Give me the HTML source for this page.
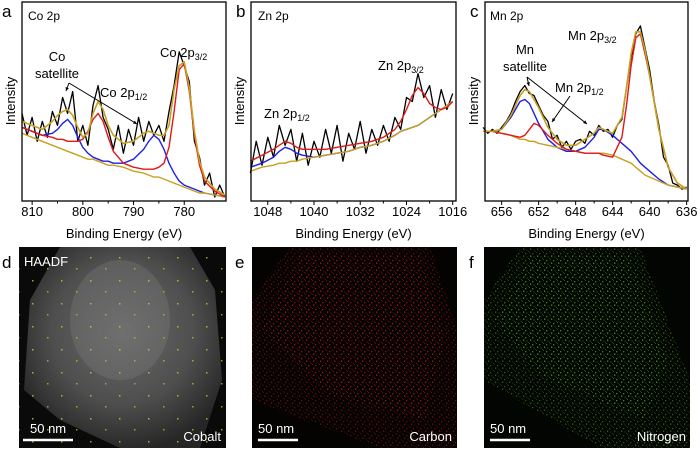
<!DOCTYPE html>
<html><head><meta charset="utf-8">
<style>
html,body{margin:0;padding:0;background:#fff;}
svg{display:block;font-family:"Liberation Sans",Arial,sans-serif;}
</style></head>
<body>
<svg id="fig" width="700" height="450" viewBox="0 0 700 450" xmlns="http://www.w3.org/2000/svg">
<defs>
  <pattern id="redDots" width="7" height="7" patternUnits="userSpaceOnUse">
    <rect x="0" y="1" width="1.3" height="1.3" fill="#c81a16"/>
    <rect x="4" y="0" width="1" height="1" fill="#901010"/>
    <rect x="5" y="3.5" width="1.3" height="1.3" fill="#e02420"/>
    <rect x="1.5" y="4.5" width="1" height="1" fill="#a01410"/>
    <rect x="3" y="6" width="1" height="1" fill="#801008"/>
  </pattern>
  <pattern id="greenDots" width="7" height="7" patternUnits="userSpaceOnUse">
    <rect x="0" y="1" width="1.3" height="1.3" fill="#4cb818"/>
    <rect x="4" y="0" width="1" height="1" fill="#307a0c"/>
    <rect x="5" y="3.5" width="1.3" height="1.3" fill="#5ad01e"/>
    <rect x="1.5" y="4.5" width="1" height="1" fill="#3c9a12"/>
    <rect x="3" y="6" width="1" height="1" fill="#2a6a08"/>
  </pattern>
  <pattern id="yellowDots" width="29" height="23" patternUnits="userSpaceOnUse">
    <rect x="3" y="4" width="1.5" height="1.5" fill="#c8d030"/>
    <rect x="18" y="15" width="1.5" height="1.5" fill="#b8c028"/>
  </pattern>
  <radialGradient id="haadf" cx="0.5" cy="0.42" r="0.6">
    <stop offset="0" stop-color="#6a6a6a"/>
    <stop offset="0.6" stop-color="#4e4e4e"/>
    <stop offset="1" stop-color="#262626"/>
  </radialGradient>
  <clipPath id="clipD"><rect x="19" y="247" width="207" height="201"/></clipPath>
</defs>
<g id="charts"></g>

<g>
  <rect x="19" y="247" width="207" height="201" fill="#0a0a0a"/>
  <g clip-path="url(#clipD)">
    <polygon points="60,247 190,247 215,290 222,380 200,448 120,448 60,420 24,390 30,300" fill="url(#haadf)"/>
    <ellipse cx="120" cy="320" rx="50" ry="60" fill="#7a7a7a" opacity="0.35"/>
    <rect x="19" y="247" width="207" height="201" fill="url(#yellowDots)" opacity="0.8"/>
  </g>
  <text x="24" y="266" font-size="13" fill="#fff">HAADF</text>
  <line x1="23" y1="440" x2="73" y2="440" stroke="#fff" stroke-width="2.5"/>
  <text x="30" y="433" font-size="13" fill="#fff">50 nm</text>
  <text x="221" y="441" font-size="13" fill="#fff" text-anchor="end">Cobalt</text>
</g>
<g>
  <rect x="252" y="247" width="205" height="201" fill="#050202"/>
  <polygon points="290,247 430,247 457,330 457,448 380,448 252,400 252,300" fill="url(#redDots)" opacity="0.5"/>
  <polygon points="300,255 420,255 445,340 425,420 330,395 262,330" fill="url(#redDots)" opacity="0.45"/>
  <line x1="258" y1="440" x2="298" y2="440" stroke="#fff" stroke-width="2.5"/>
  <text x="258" y="433" font-size="13" fill="#fff">50 nm</text>
  <text x="452" y="441" font-size="13" fill="#fff" text-anchor="end">Carbon</text>
</g>
<g>
  <rect x="484" y="247" width="206" height="201" fill="#020502"/>
  <polygon points="520,247 640,247 690,380 690,448 600,448 484,380 484,300" fill="url(#greenDots)" opacity="0.5"/>
  <polygon points="530,255 630,255 668,360 645,420 540,375 495,320" fill="url(#greenDots)" opacity="0.45"/>
  <line x1="490" y1="440" x2="530" y2="440" stroke="#fff" stroke-width="2.5"/>
  <text x="490" y="433" font-size="13" fill="#fff">50 nm</text>
  <text x="686" y="441" font-size="13" fill="#fff" text-anchor="end">Nitrogen</text>
</g>
<text x="2" y="268" font-size="17">d</text>
<text x="235" y="268" font-size="17">e</text>
<text x="469" y="268" font-size="17">f</text>
</svg>

<script>
// ---- Panel a: Co 2p ----
const coEnergy = [812,810,808,806,805,804,803,802,801,800,799,798,797,796,795,794,792,790,788,787,786,785,784,783,782,781,780,779,778,777,776,774,772];
const coBase   = [34,32,30,28,27,26,25,24,23,22,21,21,20,19,18,18,17,15,14,13,12,12,11,10,9,8,7,6,5,4,4,3,2];
const coBlue   = [37,35,33,34,36,39,41,38,32,27,24,22,21,20,20,19,19,21,26,30,33,31,26,19,14,10,8,7,6,5,4,3,2];
const coRed    = [37,35,33,32,31,31,30,30,30,31,35,41,44,40,32,25,19,17,16,16,16,17,19,27,45,66,69,55,33,18,10,5,2];
const coEnv    = [40,38,36,40,43,45,46,43,37,32,34,44,50,46,38,33,29,30,34,35,34,33,33,38,56,68,70,57,35,20,12,6,3];
const coRawStart = 812, coRawStep = -1;
const coRaw = [44,33,42,30,40,32,45,38,52,44,55,30,38,28,48,58,42,36,26,38,24,36,28,42,30,40,33,38,30,45,58,75,68,60,30,22,8,14,2,8,2];
const coTicks = [810,800,790,780];

// ---- Panel b: Zn 2p ----
const znEnergy = [1051,1049,1047,1046,1045,1044,1043,1042,1040,1038,1036,1034,1032,1030,1028,1026,1025,1024,1023,1022,1021,1020,1019,1018,1017,1016];
const znBase   = [15,17,18,19,19,20,20,21,22,23,24,25,27,28,30,33,35,36,37,38,40,42,44,46,48,50];
const znBlue   = [17,19,22,25,27,26,24,23,22,23,24,25,27,28,30,33,35,36,37,38,40,42,44,46,48,50];
const znRed    = [20,23,26,28,30,29,27,26,26,26,27,28,29,30,32,36,40,46,53,57,54,49,47,46,47,50];
const znRawStart = 1051, znRawStep = -1;
const znRaw = [14,30,18,32,22,38,28,36,20,34,18,30,22,36,24,38,20,34,26,40,24,36,28,38,30,42,36,52,50,64,52,58,42,56,46,54];
const znTicks = [1048,1040,1032,1024,1016];

// ---- Panel c: Mn 2p ----
const mnEnergy = [658,657,656,655,654,653.5,653,652.5,652,651,650,649,648,647,646,645.5,645,644,643,642.5,642,641.5,641,640.5,640,639,638,637,636];
const mnBase   = [35,35,34,33,31,31,30,30,29,28,27,26,25,24,24,24,24,23,21,20,19,17,15,13,12,10,8,7,6];
const mnBlue   = [35,35,36,42,50,51,49,44,39,31,27,25,25,27,32,36,36,33,29,27,25,22,19,17,15,11,8,7,6];
const mnRed    = [35,35,34,33,32,33,36,39,38,33,29,26,25,24,24,24,23,22,32,48,68,82,84,74,63,36,17,9,6];
const mnEnv    = [35,35,36,43,53,56,55,51,47,37,31,28,28,31,34,37,36,34,42,57,74,85,85,76,63,36,17,9,6];
const mnRawStart = 658, mnRawStep = -0.5;
const mnRaw = [37,34,36,34,37,40,44,50,55,58,54,53,48,43,40,31,33,27,30,26,30,31,29,35,33,38,35,36,32,38,41,57,72,84,88,77,66,50,38,22,18,9,8,6,7];
const mnTicks = [656,652,648,644,640,636];

const NS = "http://www.w3.org/2000/svg";
const root = document.getElementById('charts');
function mk(tag, attrs, parent) {
  const el = document.createElementNS(NS, tag);
  for (const k in attrs) el.setAttribute(k, attrs[k]);
  (parent || root).appendChild(el);
  return el;
}
const TOP = 2, BOT = 201;
function yScale(v) { return BOT - v * (BOT - TOP) / 100; }

function panel(cfg) {
  const g = mk('g', {});
  
  
  const x = e => cfg.x0 + (cfg.e0 - e) * cfg.k;
  function line(E, V, color, w, nm) {
    const pts = E.map((e, i) => x(e).toFixed(1) + ',' + yScale(V[i]).toFixed(1)).join(' ');
    const p = mk('polyline', {points: pts, fill: 'none', stroke: color, 'stroke-width': w, 'stroke-linejoin': 'round'}, g);
    
    
  }
  const rawE = cfg.raw.map((v, i) => cfg.rawStart + i * cfg.rawStep);
  line(rawE, cfg.raw, '#000', 1.3, 'raw-spectrum');
  if (cfg.blue) line(cfg.E, cfg.blue, '#1f1fe6', 1.4, 'fit-component-blue');
  line(cfg.E, cfg.base, '#c8a020', 1.4, 'background-line');
  if (cfg.red) line(cfg.E, cfg.red, '#e01818', 1.4, 'fit-component-red');
  if (cfg.env) line(cfg.E, cfg.env, '#c8a020', 1.6, 'fit-envelope');
  const box = mk('rect', {x: cfg.x0, y: TOP, width: cfg.x1 - cfg.x0, height: BOT - TOP, fill: 'none', stroke: '#000', 'stroke-width': 1.3}, g);
  
  
  cfg.ticks.forEach(t => {
    const tx = x(t);
    const tk = mk('line', {x1: tx, y1: BOT, x2: tx, y2: BOT + 4, stroke: '#000', 'stroke-width': 1}, g);
    
    
    const mx = x(t + cfg.minor);
    if (mx > cfg.x0 + 1 && mx < cfg.x1 - 1) {
      const m = mk('line', {x1: mx, y1: BOT, x2: mx, y2: BOT + 2.5, stroke: '#000', 'stroke-width': 1}, g);
      
      
    }
    const lb = mk('text', {x: tx, y: 216, 'font-size': 13, 'text-anchor': 'middle'}, g);
    lb.textContent = t;
    
    
  });
  const xl = mk('text', {x: (cfg.x0 + cfg.x1) / 2, y: 238, 'font-size': 13, 'text-anchor': 'middle'}, g);
  xl.textContent = 'Binding Energy (eV)';
  
  
  const yl = mk('text', {x: 0, y: 0, 'font-size': 13, 'text-anchor': 'middle', transform: 'translate(' + (cfg.x0 - 7) + ',101) rotate(-90)'}, g);
  yl.textContent = 'Intensity';
  
  
  return g;
}

panel({name: 'co-2p-panel', x0: 22, x1: 226, e0: 812, k: 5.07, E: coEnergy, base: coBase, blue: coBlue, red: coRed, env: coEnv,
  raw: coRaw, rawStart: coRawStart, rawStep: coRawStep, ticks: coTicks, minor: 5});
panel({name: 'zn-2p-panel', x0: 251, x1: 456, e0: 1050.9, k: 5.78, E: znEnergy, base: znBase, blue: znBlue, red: znRed, env: null,
  raw: znRaw, rawStart: znRawStart, rawStep: znRawStep, ticks: znTicks, minor: 4});
panel({name: 'mn-2p-panel', x0: 485, x1: 688, e0: 657.8, k: 9.25, E: mnEnergy, base: mnBase, blue: mnBlue, red: mnRed, env: mnEnv,
  raw: mnRaw, rawStart: mnRawStart, rawStep: mnRawStep, ticks: mnTicks, minor: 2});

function txt(x, y, html, nm, size, anchor) {
  const t = mk('text', {x: x, y: y, 'font-size': size || 13, 'text-anchor': anchor || 'start'});
  t.innerHTML = html;
  
  
}
function arrow(x1, y1, x2, y2, nm) {
  const l = mk('line', {x1: x1, y1: y1, x2: x2, y2: y2, stroke: '#000', 'stroke-width': 1});
  
  
  const a = Math.atan2(y2 - y1, x2 - x1), s = 4;
  const p = mk('polygon', {points: x2 + ',' + y2 + ' ' + (x2 - s * Math.cos(a - 0.45)) + ',' + (y2 - s * Math.sin(a - 0.45)) + ' ' + (x2 - s * Math.cos(a + 0.45)) + ',' + (y2 - s * Math.sin(a + 0.45)), fill: '#000'});
  
  
}
txt(2, 17, 'a', 'panel-letter-a', 17);
txt(236, 17, 'b', 'panel-letter-b', 17);
txt(470, 17, 'c', 'panel-letter-c', 17);
txt(28, 20, 'Co 2p', 'co-2p-title', 12);
txt(57, 61, 'Co', 'co-satellite-label-1', 13, 'middle');
txt(57, 78, 'satellite', 'co-satellite-label-2', 13, 'middle');
txt(100, 97, 'Co 2p<tspan font-size="9" dy="3">1/2</tspan>', 'co-2p12-label');
txt(160, 57, 'Co 2p<tspan font-size="9" dy="3">3/2</tspan>', 'co-2p32-label');
arrow(69, 83, 66, 91, 'co-satellite-arrow-1');
arrow(69, 83, 137, 124, 'co-satellite-arrow-2');
txt(258, 20, 'Zn 2p', 'zn-2p-title', 12);
txt(264, 118, 'Zn 2p<tspan font-size="9" dy="3">1/2</tspan>', 'zn-2p12-label');
txt(378, 70, 'Zn 2p<tspan font-size="9" dy="3">3/2</tspan>', 'zn-2p32-label');
txt(490, 20, 'Mn 2p', 'mn-2p-title', 12);
txt(525, 54, 'Mn', 'mn-satellite-label-1', 13, 'middle');
txt(525, 71, 'satellite', 'mn-satellite-label-2', 13, 'middle');
txt(555, 92, 'Mn 2p<tspan font-size="9" dy="3">1/2</tspan>', 'mn-2p12-label');
txt(568, 40, 'Mn 2p<tspan font-size="9" dy="3">3/2</tspan>', 'mn-2p32-label');
arrow(527, 77, 529, 86, 'mn-satellite-arrow-1');
arrow(527, 77, 587, 124, 'mn-satellite-arrow-2');
arrow(570, 96, 552, 122, 'mn-2p12-arrow');
</script>
</body></html>
